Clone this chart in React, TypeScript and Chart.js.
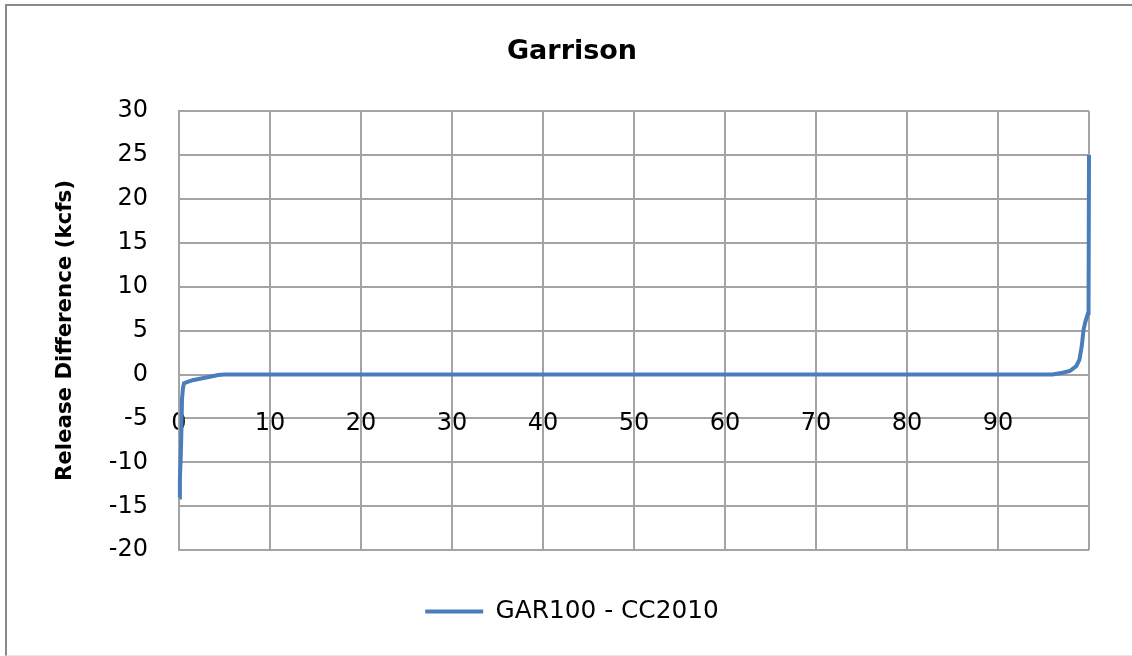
import React, { useEffect, useRef } from "react";
import { Chart, registerables } from "chart.js";

Chart.register(...registerables);

const chartTitle = "Garrison";
const yAxisTitle = "Release Difference (kcfs)";
const seriesLabel = "GAR100 - CC2010";

// percent of time (x) and release difference in kcfs (y)
const exceedance = [
  0.05, 0.1, 0.2, 0.27, 0.33, 0.44, 0.55, 0.8, 1.5, 2.3, 3.4, 4.3, 5, 50, 96.0,
  97.1, 97.9, 98.6, 98.95, 99.2, 99.4, 99.6, 99.9, 99.95, 100,
];
const releaseDiff = [
  -14, -11.9, -9.1, -6.2, -2.8, -1.5, -1.0, -0.9, -0.65, -0.48, -0.26, -0.05, 0,
  0, 0, 0.2, 0.4, 0.95, 1.7, 3.2, 5.1, 6.0, 7.0, 7.5, 25,
];

const xMin = 0;
const xMax = 100;
const xStep = 10;
const yMin = -20;
const yMax = 30;
const yStep = 5;

const FONT = "'DejaVu Sans', sans-serif";
const GRID = "#a4a4a4";
const BLUE = "#4A7EBB";

export default function App() {
  const canvasRef = useRef<HTMLCanvasElement | null>(null);

  useEffect(() => {
    const canvas = canvasRef.current;
    if (!canvas) return;
    const points = exceedance.map((x, i) => ({ x, y: releaseDiff[i] }));
    const chart = new Chart(canvas, {
      type: "line",
      data: {
        datasets: [
          {
            label: seriesLabel,
            data: points,
            borderColor: BLUE,
            backgroundColor: BLUE,
            borderWidth: 4,
            pointRadius: 0,
            tension: 0,
            clip: 6,
          },
        ],
      },
      options: {
        responsive: false,
        animation: false,
        events: [],
        layout: { padding: { left: 55, right: 43, top: 0, bottom: 22 } },
        plugins: {
          title: {
            display: true,
            text: chartTitle,
            color: "#000",
            font: { family: FONT, size: 27, weight: "bold" },
            padding: { top: 36, bottom: 42.6 },
          },
          legend: {
            display: true,
            position: "bottom",
            labels: {
              usePointStyle: true,
              pointStyle: "line",
              pointStyleWidth: 58,
              boxWidth: 58,
              padding: 49,
              color: "#000",
              font: { family: FONT, size: 24.8 },
            },
          },
          tooltip: { enabled: false },
        },
        scales: {
          x: {
            type: "linear",
            position: { y: 0 },
            min: xMin,
            max: xMax,
            grid: { color: GRID, lineWidth: 2, drawTicks: false },
            border: { display: false },
            ticks: {
              stepSize: xStep,
              padding: 35,
              color: "#000",
              font: { family: FONT, size: 24 },
              maxRotation: 0,
              callback: (v: any) => (Number(v) >= xMax ? "" : String(v)),
            },
          },
          y: {
            type: "linear",
            position: "left",
            min: yMin,
            max: yMax,
            afterFit: (scale: any) => {
              scale.width = 124;
            },
            grid: { color: GRID, lineWidth: 2, drawTicks: false },
            border: { display: true, color: GRID, width: 2 },
            ticks: {
              stepSize: yStep,
              padding: 31,
              color: "#000",
              font: { family: FONT, size: 24 },
            },
            title: {
              display: true,
              text: yAxisTitle,
              color: "#000",
              font: { family: FONT, size: 21.3, weight: "bold", lineHeight: 1 },
              padding: { top: -0.5, bottom: 0 },
            },
          },
        },
      },
    });
    return () => chart.destroy();
  }, []);

  return (
    <div
      style={{
        position: "absolute",
        left: 0,
        top: 0,
        width: 1132,
        height: 656,
        overflow: "hidden",
        background: "#fff",
      }}
    >
      <div
        style={{
          position: "absolute",
          left: 5,
          top: 4,
          width: 1200,
          height: 649,
          borderTop: "2px solid #8a8a8a",
          borderLeft: "2px solid #8a8a8a",
          borderBottom: "1px solid #e6e6e6",
        }}
      />
      <canvas
        ref={canvasRef}
        width={1132}
        height={656}
        style={{ position: "absolute", left: 0, top: 0, width: 1132, height: 656 }}
      />
    </div>
  );
}
